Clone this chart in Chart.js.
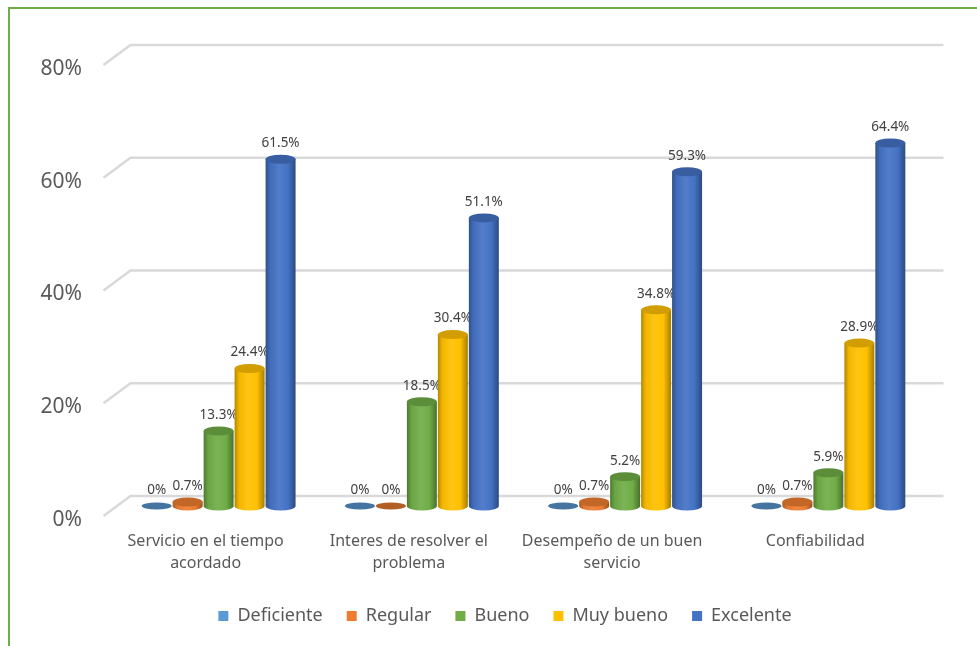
<!DOCTYPE html>
<html>
<head>
<meta charset="utf-8">
<script src="https://cdn.jsdelivr.net/npm/chart.js@4.4.1/dist/chart.umd.min.js"></script>
<style>
  html, body { margin: 0; padding: 0; background: #fff; }
  #frame { position: absolute; left: 8px; top: 7px; right: 0; bottom: 0; border-top: 2px solid #70AD47; border-left: 2px solid #70AD47; }
  #wrap { position: absolute; left: 0; top: 0; width: 977px; height: 646px; }
</style>
</head>
<body>
<div id="frame"></div>
<div id="wrap"><canvas id="chart" width="977" height="646"></canvas></div>
<script>
// Categories and series
const categories = [
  ['Servicio en el tiempo', 'acordado'],
  ['Interes de resolver el', 'problema'],
  ['Desempeño de un buen', 'servicio'],
  'Confiabilidad'
];
const seriesNames = ['Deficiente', 'Regular', 'Bueno', 'Muy bueno', 'Excelente'];
const deficiente = [0, 0, 0, 0];
const regular = [0.7, 0, 0.7, 0.7];
const bueno = [13.3, 18.5, 5.2, 5.9];
const muyBueno = [24.4, 30.4, 34.8, 28.9];
const excelente = [61.5, 51.1, 59.3, 64.4];
const yTicks = [0, 20, 40, 60, 80];
const colors = ['#5B9BD5', '#ED7D31', '#70AD47', '#FFC000', '#4472C4'];

const FONT = "'Noto Sans', sans-serif";

// mix a hex colour toward black (f<0) or white (f>0)
function shade(hex, f) {
  const n = parseInt(hex.slice(1), 16);
  let r = n >> 16, g = (n >> 8) & 255, b = n & 255;
  const t = f < 0 ? 0 : 255, p = Math.abs(f);
  r = Math.round(r + (t - r) * p);
  g = Math.round(g + (t - g) * p);
  b = Math.round(b + (t - b) * p);
  return `rgb(${r},${g},${b})`;
}

// 3D back wall gridlines + cylinders
const DX = 13.5, DY = 10;
const cylinders = {
  id: 'cylinders',
  afterLayout(chart) {
    // legend in the original is centred a bit right of the canvas middle
    chart.legend.left += 30;
    chart.legend.right += 30;
  },
  beforeDatasetsDraw(chart) {
    const ctx = chart.ctx;
    const y = chart.scales.y;
    const { left, right } = chart.chartArea;
    ctx.save();
    ctx.strokeStyle = '#D9D9D9';
    ctx.lineWidth = 2.5;
    yTicks.forEach(v => {
      const py = y.getPixelForValue(v);
      ctx.beginPath();
      ctx.moveTo(left - DX, py + DY);
      ctx.lineTo(left + DX, py - DY);
      ctx.lineTo(right + DX, py - DY);
      ctx.stroke();
    });
    ctx.restore();
  },
  beforeDatasetDraw() {
    return false;
  },
  afterDatasetsDraw(chart) {
    const ctx = chart.ctx;
    const ry = 4.5;
    ctx.save();
    chart.data.datasets.forEach((ds, di) => {
      const meta = chart.getDatasetMeta(di);
      const col = colors[di];
      meta.data.forEach((bar, i) => {
        const { x, y, base, width } = bar.getProps(['x', 'y', 'base', 'width'], true);
        const rx = width / 2 - 0.5;
        const val = ds.data[i];
        if (val === 0) {
          ctx.fillStyle = shade(col, -0.25);
          ctx.beginPath();
          ctx.ellipse(x, base, rx, 3.4, 0, 0, Math.PI * 2);
          ctx.fill();
        } else {
          const g = ctx.createLinearGradient(x - rx, 0, x + rx, 0);
          g.addColorStop(0, shade(col, -0.3));
          g.addColorStop(0.15, shade(col, -0.05));
          g.addColorStop(0.45, shade(col, 0.08));
          g.addColorStop(0.75, col);
          g.addColorStop(1, shade(col, -0.35));
          ctx.fillStyle = g;
          ctx.beginPath();
          ctx.moveTo(x - rx, y);
          ctx.lineTo(x - rx, base);
          ctx.ellipse(x, base, rx, ry, 0, Math.PI, 0, true);
          ctx.lineTo(x + rx, y);
          ctx.closePath();
          ctx.fill();
          ctx.fillStyle = shade(col, -0.18);
          ctx.beginPath();
          ctx.ellipse(x, y, rx, ry, 0, 0, Math.PI * 2);
          ctx.fill();
        }
        // value label
        ctx.fillStyle = '#404040';
        ctx.font = `13.5px ${FONT}`;
        ctx.textAlign = 'center';
        ctx.textBaseline = 'middle';
        ctx.fillText(val + '%', x, y - 16);
      });
    });
    ctx.restore();
  }
};

const seriesData = [deficiente, regular, bueno, muyBueno, excelente];

new Chart(document.getElementById('chart'), {
  type: 'bar',
  data: {
    labels: categories,
    datasets: seriesNames.map((name, k) => ({
      label: name,
      data: seriesData[k],
      backgroundColor: colors[k],
      borderWidth: 0,
      barPercentage: 1,
      categoryPercentage: 0.762
    }))
  },
  options: {
    responsive: false,
    animation: false,
    devicePixelRatio: 1,
    layout: { padding: { left: 20, right: 47, top: 55, bottom: 11 } },
    plugins: {
      tooltip: { enabled: false },
      legend: {
        position: 'bottom',
        labels: {
          boxWidth: 10,
          boxHeight: 10,
          padding: 24,
          color: '#595959',
          font: { family: FONT, size: 18 }
        }
      }
    },
    scales: {
      x: {
        grid: { display: false, drawTicks: false },
        border: { display: false },
        ticks: {
          color: '#595959',
          font: { family: FONT, size: 16, lineHeight: 1.38 },
          padding: 24,
          labelOffset: -13,
          maxRotation: 0,
          autoSkip: false
        },
        afterFit(s) { s.height = 77; }
      },
      y: {
        min: 0,
        max: 80,
        grid: { display: false, drawTicks: false },
        border: { display: false },
        ticks: {
          stepSize: 20,
          color: '#595959',
          font: { family: FONT, size: 21 },
          padding: 35,
          labelOffset: 14,
          callback: v => v + '%'
        },
        afterFit(s) { s.width = 97; }
      }
    }
  },
  plugins: [cylinders]
});
</script>
</body>
</html>
